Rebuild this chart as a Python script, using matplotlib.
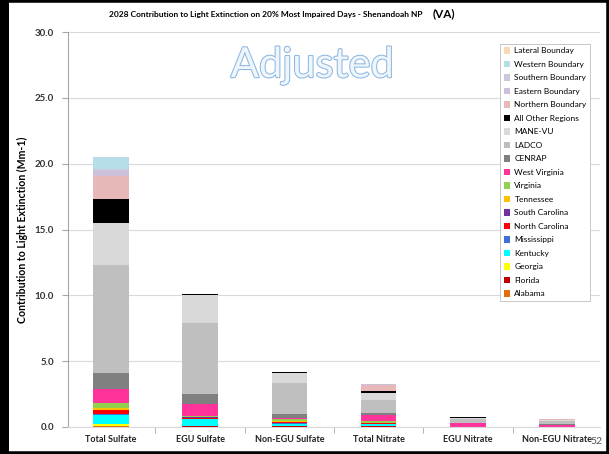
import numpy as np, matplotlib
matplotlib.use("Agg")
import matplotlib.pyplot as plt
import matplotlib.patheffects as pe

plt.rcParams['font.family'] = ['Lato', 'DejaVu Sans']

categories = ['Total Sulfate', 'EGU Sulfate', 'Non-EGU Sulfate', 'Total Nitrate', 'EGU Nitrate', 'Non-EGU Nitrate']

# stacking order, bottom to top
regions = ['Alabama', 'Florida', 'Georgia', 'Kentucky', 'Mississippi', 'North Carolina',
           'South Carolina', 'Tennessee', 'Virginia', 'West Virginia', 'CENRAP', 'LADCO',
           'MANE-VU', 'All Other Regions', 'Northern Boundary', 'Eastern Boundary',
           'Southern Boundary', 'Western Boundary', 'Lateral Bounday']
colors = ['#e46c0a', '#c00000', '#ffff00', '#00ffff', '#3f6fd8', '#ff0000',
          '#7030a0', '#ffc000', '#92d050', '#ff3399', '#808080', '#bfbfbf',
          '#d9d9d9', '#000000', '#e6b9b8', '#ccc0da', '#c9c9dc', '#b7dde8', '#fad7b5']

total_sulfate   = [0.05, 0.05, 0.10, 0.68, 0.08, 0.30, 0.05, 0.13, 0.38, 1.06, 1.20, 8.20, 3.20, 1.85, 1.77, 0.38, 0.10, 0.90, 0.0]
egu_sulfate     = [0.02, 0.02, 0.03, 0.50, 0.03, 0.12, 0.02, 0.05, 0.03, 0.95, 0.73, 5.40, 2.10, 0.10, 0.0, 0.0, 0.0, 0.0, 0.0]
nonegu_sulfate  = [0.02, 0.03, 0.05, 0.15, 0.03, 0.08, 0.03, 0.10, 0.10, 0.12, 0.30, 2.35, 0.75, 0.10, 0.0, 0.0, 0.0, 0.0, 0.0]
total_nitrate   = [0.02, 0.02, 0.05, 0.12, 0.02, 0.04, 0.01, 0.06, 0.12, 0.43, 0.18, 0.95, 0.60, 0.15, 0.45, 0.03, 0.01, 0.02, 0.0]
egu_nitrate     = [0.0, 0.0, 0.0, 0.02, 0.0, 0.0, 0.0, 0.0, 0.01, 0.24, 0.06, 0.25, 0.10, 0.05, 0.0, 0.0, 0.0, 0.0, 0.0]
nonegu_nitrate  = [0.0, 0.0, 0.0, 0.01, 0.0, 0.0, 0.0, 0.0, 0.01, 0.10, 0.08, 0.22, 0.12, 0.02, 0.03, 0.0, 0.0, 0.0, 0.0]

vals = np.array([total_sulfate, egu_sulfate, nonegu_sulfate,
                 total_nitrate, egu_nitrate, nonegu_nitrate]).T

fig = plt.figure(figsize=(6.09, 4.54), dpi=100)
ax = fig.add_axes([68/609, 1-427/454, 532/609, 395/454])

x = np.arange(len(categories))
bottom = np.zeros(len(categories))
handles = []
for name, col, v in zip(regions, colors, vals):
    b = ax.bar(x, v, 0.4, bottom=bottom, color=col, label=name, zorder=2)
    handles.append(b)
    bottom += v

ax.set_xlim(-0.48, 5.48)
ax.set_ylim(0, 30)
ax.set_yticks(np.arange(0, 31, 5))
ax.set_yticklabels([f'{t:.1f}' for t in np.arange(0, 31, 5)], fontsize=7, fontweight='bold', color='#333333')
ax.yaxis.grid(True, color='#d9d9d9', lw=0.8, zorder=0)
ax.set_axisbelow(True)
ax.set_xticks(x)
ax.set_xticklabels(categories, fontsize=6.5, fontweight='bold', color='#222222')
ax.set_xticks(np.arange(0.5, 5.5, 1), minor=True)
ax.tick_params(axis='x', which='major', length=0, pad=6)
ax.tick_params(axis='x', which='minor', length=4, color='#a6a6a6', direction='out')
ax.tick_params(axis='y', length=4, color='#a6a6a6', pad=6)
for s in ['top', 'right']:
    ax.spines[s].set_visible(False)
ax.spines['left'].set_color('#a6a6a6')
ax.spines['bottom'].set_color('#d9d9d9')

ax.set_ylabel('Contribution to Light Extinction (Mm-1)', fontsize=7.6, fontweight='bold', labelpad=5)

leg = ax.legend(handles[::-1], regions[::-1], loc='upper right', bbox_to_anchor=(0.989, 0.98),
                fontsize=6, frameon=True, fancybox=False, edgecolor='#bfbfbf', framealpha=1,
                handlelength=0.8, handleheight=0.8, handletextpad=0.5, labelspacing=0.77,
                borderpad=0.4)
leg.get_frame().set_linewidth(0.6)

ax.text(0.459, 0.916, 'Adjusted', transform=ax.transAxes, ha='center', va='center',
        fontsize=30, color='#eef5fb',
        path_effects=[pe.withStroke(linewidth=1.5, foreground='#8db8e0')])

fig.text(0.437, 0.967, '2028 Contribution to Light Extinction on 20% Most Impaired Days - Shenandoah NP',
         ha='center', va='center', fontsize=6.0, fontweight='bold')
fig.text(0.711, 0.969, '(VA)', ha='left', va='center', fontsize=8.5, fontweight='bold')
fig.text(0.98, 0.028, '52', ha='center', va='center', fontsize=7.5, color='#555555')

# slide frame
fig.add_artist(plt.Rectangle((0, 0), 1, 1, transform=fig.transFigure, fill=False, ec='k', lw=4))
fig.add_artist(plt.Rectangle((0, 0), 9/609, 1, transform=fig.transFigure, fc='k', ec='none'))

fig.savefig('out.png', dpi=100)
